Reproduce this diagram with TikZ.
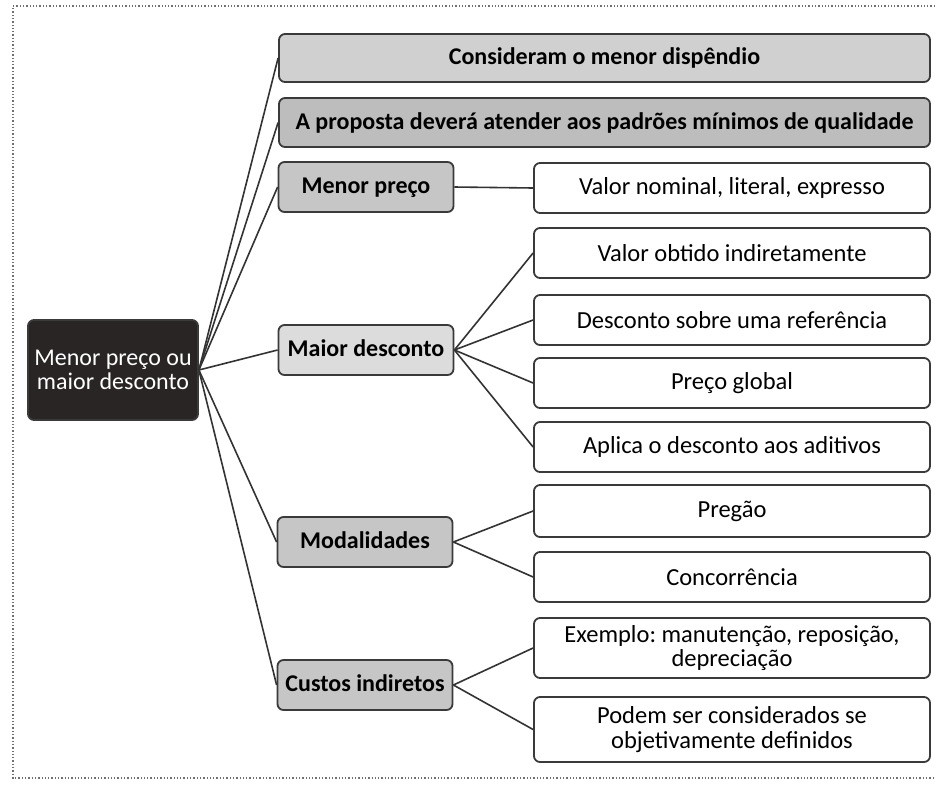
\documentclass[tikz,border=0pt]{standalone}
\usepackage{fontspec}
\setmainfont{Carlito}
\frenchspacing
\definecolor{boxline}{HTML}{3A3A3A}
\definecolor{connc}{HTML}{333333}
\definecolor{rootc}{HTML}{2A2525}
\definecolor{topgrayA}{HTML}{D0D0D0}
\definecolor{topgrayB}{HTML}{BDBDBD}
\definecolor{midgray}{HTML}{C6C6C6}
\definecolor{midlight}{HTML}{DCDCDC}
\definecolor{framec}{HTML}{707070}
\begin{document}
\begin{tikzpicture}[x=1pt,y=-1pt,
  box/.style={draw=boxline, line width=1.8pt, rounded corners=6pt, inner sep=0pt, align=center, font=\fontsize{24.5}{24.5}\selectfont},
  topbox/.style={box, minimum width=651pt, font=\bfseries\fontsize{24}{24}\selectfont},
  midbox/.style={box, fill=midgray, minimum width=175pt, minimum height=50pt, text height=16pt, text depth=4pt, font=\bfseries\fontsize{24}{24}\selectfont},
  leafbox/.style={box, fill=white, minimum width=396pt, minimum height=50pt},
  rootbox/.style={box, fill=rootc, text=white, minimum width=170pt, minimum height=100pt, font=\fontsize{24}{24}\selectfont},
  conn/.style={draw=connc, line width=1.6pt},
  frameline/.style={draw=framec, dotted, line width=1.3pt}
]
\useasboundingbox (0,0) rectangle (935,788);

% dotted frame
\coordinate (fa) at (935,6);
\coordinate (fb) at (13,6);
\coordinate (fc) at (13,778);
\coordinate (fd) at (935,778);
\draw[frameline] (fa) -- (fb) -- (fc) -- (fd);

% root
\node[rootbox] (root) at (113,370) {Menor preço ou\\maior desconto};

% level 1
\node[topbox, fill=topgrayA, minimum height=48pt] (b1) at (604.5,58) {Consideram o menor dispêndio};
\node[topbox, fill=topgrayB, minimum height=49pt] (b2) at (604.5,122.5) {A proposta deverá atender aos padrões mínimos de qualidade};
\node[midbox] (mp) at (366,187) {Menor preço};
\node[midbox, fill=midlight] (md) at (366,350) {Maior desconto};
\node[midbox] (mo) at (365,542) {Modalidades};
\node[midbox] (ci) at (365,685) {Custos indiretos};

% leaves
\node[leafbox] (l1) at (732,188) {Valor nominal, literal, expresso};
\node[leafbox] (l2) at (732,253) {Valor obtido indiretamente};
\node[leafbox] (l3) at (732,320) {Desconto sobre uma referência};
\node[leafbox] (l4) at (732,383) {Preço global};
\node[leafbox] (l5) at (732,447) {Aplica o desconto aos aditivos};
\node[leafbox, minimum height=52pt] (l6) at (732,511) {Pregão};
\node[leafbox] (l7) at (732,577) {Concorrência};
\node[leafbox, minimum height=60pt] (l8) at (732,648) {Exemplo: manutenção, reposição,\\depreciação};
\node[leafbox, minimum height=65pt] (l9) at (732,729.5) {Podem ser considerados se\\objetivamente definidos};

% connectors from root
\foreach \t in {b1,b2,mp,md,mo,ci}
  \draw[conn] (root.east) -- (\t.west);

% connectors to leaves
\draw[conn] (mp.east) -- (l1.west);
\foreach \t in {l2,l3,l4,l5}
  \draw[conn] (md.east) -- (\t.west);
\foreach \t in {l6,l7}
  \draw[conn] (mo.east) -- (\t.west);
\foreach \t in {l8,l9}
  \draw[conn] (ci.east) -- (\t.west);
\end{tikzpicture}
\end{document}
